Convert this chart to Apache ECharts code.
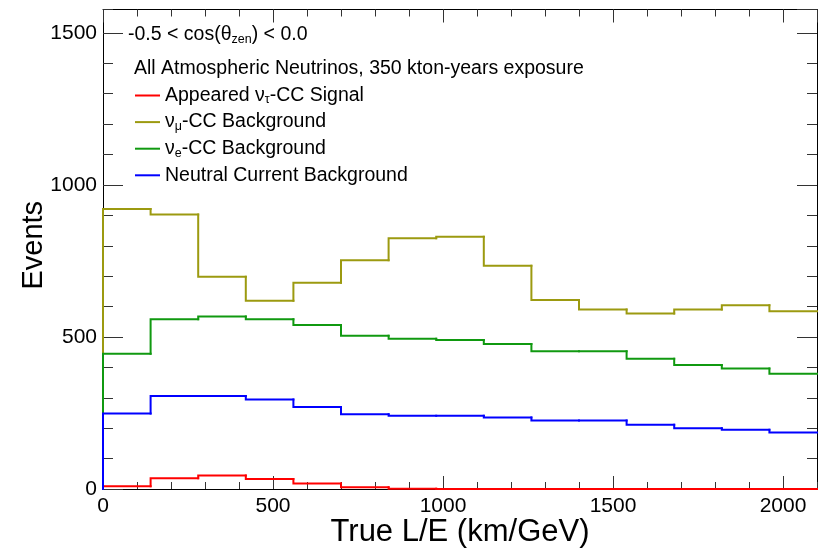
<!DOCTYPE html>
<html>
<head>
<meta charset="utf-8">
<script src="https://cdn.jsdelivr.net/npm/echarts@6/dist/echarts.min.js"></script>
<style>
  html, body { margin: 0; padding: 0; background: #fff; }
  #chart { width: 820px; height: 550px; }
</style>
</head>
<body>
<div id="chart"></div>
<script>
// Bin edges of the L/E histogram (km/GeV)
const binEdges = [0, 140, 280, 420, 560, 700, 840, 980, 1120, 1260, 1400, 1540, 1680, 1820, 1960, 2100];

// Events per bin
const tauSignal = [9, 35, 44, 33, 18, 6, 1, 0, 0, 0, 0, 0, 0, 0, 0];
const numuBkg   = [921, 903, 698, 619, 678, 752, 825, 830, 734, 622, 590, 577, 590, 604, 585];
const nueBkg    = [445, 558, 567, 558, 539, 504, 494, 490, 477, 453, 453, 428, 408, 396, 379];
const ncBkg     = [248, 306, 306, 294, 270, 246, 241, 241, 235, 225, 225, 211, 200, 195, 186];

const seriesNames = ['Appeared ντ-CC Signal', 'νμ-CC Background', 'νe-CC Background', 'Neutral Current Background'];
const legendRich = {
  'Appeared ντ-CC Signal': '{n|Appeared ν}{s|τ}{n|-CC Signal}',
  'νμ-CC Background': '{n|ν}{s|μ}{n|-CC Background}',
  'νe-CC Background': '{n|ν}{s|e}{n|-CC Background}',
  'Neutral Current Background': '{n|Neutral Current Background}'
};

const xTickLabels = [0, 500, 1000, 1500, 2000];
const yTickLabels = [0, 500, 1000, 1500];

const FONT = '"Liberation Sans", Arial, Helvetica, sans-serif';

// One item per bin: [left edge, right edge, previous bin value, bin value]
function histItems(values) {
  return values.map((v, i) => [binEdges[i], binEdges[i + 1], i === 0 ? 0 : values[i - 1], v]);
}

// Each bin draws its rising/falling edge plus its flat top
function renderBin(params, api) {
  const x0 = api.value(0), x1 = api.value(1), prev = api.value(2), v = api.value(3);
  const a = api.coord([x0, prev]);
  const b = api.coord([x0, v]);
  const c = api.coord([x1, v]);
  return {
    type: 'polyline',
    shape: { points: [a, b, c] },
    style: { stroke: api.visual('color'), lineWidth: 2, fill: null, lineCap: 'square', lineJoin: 'miter' }
  };
}

const richText = {
  n: { fontSize: 19.5, fontFamily: FONT, fontWeight: 'normal', color: '#000', lineHeight: 22, verticalAlign: 'middle' },
  s: { fontSize: 12.5, fontFamily: FONT, fontWeight: 'normal', color: '#000', lineHeight: 12, verticalAlign: 'bottom' }
};

const X_MAX = 2100, Y_MAX = 1577;
const tickColor = '#333';

function xAxisDef(pos, major, showLine, showLabel) {
  return {
    type: 'value', position: pos, min: 0, max: X_MAX,
    interval: major ? 500 : 100,
    axisLine: { show: showLine, onZero: false, lineStyle: { color: '#000', width: 1 } },
    axisTick: { show: true, inside: true, length: major ? 13 : 7, lineStyle: { color: tickColor, width: 1 } },
    axisLabel: {
      show: showLabel, showMaxLabel: false, margin: 7,
      fontSize: 21, fontFamily: FONT, color: '#000',
      formatter: v => (xTickLabels.indexOf(v) >= 0 ? String(v) : '')
    },
    splitLine: { show: false },
    name: showLabel ? 'True L/E (km/GeV)' : '',
    nameLocation: 'middle', nameGap: 28, nameMoveOverlap: false,
    nameTextStyle: { fontSize: 31, fontFamily: FONT, color: '#000' }
  };
}

function yAxisDef(pos, major, showLine, showLabel) {
  return {
    type: 'value', position: pos, min: 0, max: Y_MAX,
    interval: major ? 500 : 100,
    axisLine: { show: showLine, onZero: false, lineStyle: { color: '#000', width: 1 } },
    axisTick: { show: true, inside: true, length: major ? 20 : 10, lineStyle: { color: tickColor, width: 1 } },
    axisLabel: {
      show: showLabel, showMaxLabel: false, margin: 6,
      fontSize: 21, fontFamily: FONT, color: '#000',
      formatter: v => (yTickLabels.indexOf(v) >= 0 ? String(v) : '')
    },
    splitLine: { show: false },
    name: showLabel ? 'Events' : '',
    nameLocation: 'middle', nameGap: 55, nameRotate: 90, nameMoveOverlap: false,
    nameTextStyle: { fontSize: 29, fontFamily: FONT, color: '#000', padding: [0, 0, 0, 8] }
  };
}

const colors = ['#ff0000', '#9c9a10', '#109910', '#0000ff'];
const datasets = [tauSignal, numuBkg, nueBkg, ncBkg];

const chart = echarts.init(document.getElementById('chart'), null, { renderer: 'canvas' });
chart.setOption({
  animation: false,
  backgroundColor: '#fff',
  grid: { left: 103, right: 3, top: 9.5, bottom: 61, containLabel: false, outerBoundsMode: 'none' },
  xAxis: [
    xAxisDef('bottom', true, true, true),
    xAxisDef('bottom', false, false, false),
    xAxisDef('top', true, true, false),
    xAxisDef('top', false, false, false)
  ],
  yAxis: [
    yAxisDef('left', true, true, true),
    yAxisDef('left', false, false, false),
    yAxisDef('right', true, true, false),
    yAxisDef('right', false, false, false)
  ],
  title: [
    {
      left: 128, top: 24, padding: 0,
      text: '{n|-0.5 < cos(θ}{s|zen}{n|) < 0.0}',
      textStyle: { rich: richText, fontWeight: 'normal' }
    },
    {
      left: 134, top: 57.5, padding: 0,
      text: '{n|All Atmospheric Neutrinos, 350 kton-years exposure}',
      textStyle: { rich: richText, fontWeight: 'normal' }
    }
  ],
  legend: {
    orient: 'vertical', left: 135, top: 85.5, padding: 0,
    itemWidth: 25, itemHeight: 2, itemGap: 5.6,
    icon: 'rect',
    data: seriesNames,
    formatter: name => legendRich[name],
    textStyle: { rich: richText },
    selectedMode: false
  },
  series: seriesNames.map((name, i) => ({
    name: name,
    type: 'custom',
    xAxisIndex: 0, yAxisIndex: 0,
    clip: false,
    itemStyle: { color: colors[i] },
    encode: { x: [0, 1], y: [2, 3] },
    renderItem: renderBin,
    data: histItems(datasets[i])
  }))
});
</script>
</body>
</html>
